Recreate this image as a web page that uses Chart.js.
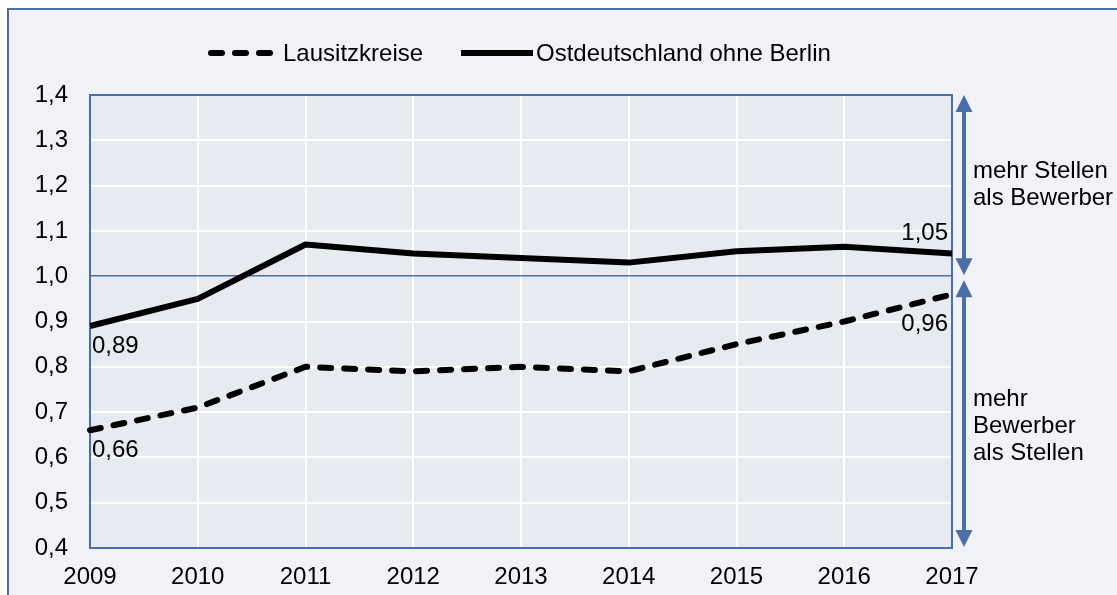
<!DOCTYPE html>
<html>
<head>
<meta charset="utf-8">
<script src="https://cdn.jsdelivr.net/npm/chart.js@4"></script>
<style>
  body { margin: 0; background: #ffffff; }
  #wrap { width: 1117px; height: 595px; }
</style>
</head>
<body>
<div id="wrap"><canvas id="chart" width="1117" height="595"></canvas></div>
<script>
const years = ['2009', '2010', '2011', '2012', '2013', '2014', '2015', '2016', '2017'];
const lausitz = [0.66, 0.71, 0.80, 0.79, 0.80, 0.79, 0.85, 0.90, 0.96];
const ostdeutschland = [0.89, 0.95, 1.07, 1.05, 1.04, 1.03, 1.055, 1.065, 1.05];
const seriesNames = ['Lausitzkreise', 'Ostdeutschland ohne Berlin'];
const upperNote = ['mehr Stellen', 'als Bewerber'];
const lowerNote = ['mehr', 'Bewerber', 'als Stellen'];

const blue = '#4a6ea9';
const plotBg = '#e8eaf1';
const outerBg = '#f1f2f8';
const fontFamily = '"Liberation Sans", Arial, sans-serif';
const fontSize = 24;

let fmt = function (v, d) {
  return v.toFixed(d).replace('.', ',');
};

// background, outer frame, plot area
const backgroundPlugin = {
  id: 'bg',
  beforeDraw(chart) {
    const ctx = chart.ctx;
    const a = chart.chartArea;
    ctx.save();
    ctx.fillStyle = '#ffffff';
    ctx.fillRect(0, 0, chart.width, chart.height);
    ctx.fillStyle = outerBg;
    ctx.fillRect(8, 9, chart.width, chart.height);
    ctx.strokeStyle = blue;
    ctx.lineWidth = 2;
    ctx.beginPath();
    ctx.moveTo(8, chart.height + 5);
    ctx.lineTo(8, 9);
    ctx.lineTo(chart.width + 5, 9);
    ctx.stroke();
    ctx.fillStyle = plotBg;
    ctx.fillRect(a.left, a.top, a.right - a.left, a.bottom - a.top);
    ctx.restore();
  },
  beforeDatasetsDraw(chart) {
    const ctx = chart.ctx;
    const a = chart.chartArea;
    ctx.save();
    ctx.strokeStyle = blue;
    ctx.lineWidth = 2;
    ctx.strokeRect(a.left, a.top, a.right - a.left, a.bottom - a.top);
    ctx.restore();
  }
};

// legend, value labels, arrows and notes on the right
const annotationPlugin = {
  id: 'notes',
  afterDraw(chart) {
    const ctx = chart.ctx;
    const x = chart.scales.x;
    const y = chart.scales.y;
    const last = years.length - 1;
    ctx.save();
    ctx.font = fontSize + 'px ' + fontFamily;
    ctx.fillStyle = '#000000';
    ctx.textBaseline = 'middle';

    // legend
    ctx.strokeStyle = '#000000';
    ctx.lineWidth = 6;
    ctx.lineCap = 'round';
    ctx.setLineDash([11, 13]);
    ctx.beginPath();
    ctx.moveTo(211, 53);
    ctx.lineTo(274, 53);
    ctx.stroke();
    ctx.setLineDash([]);
    ctx.lineCap = 'butt';
    ctx.beginPath();
    ctx.moveTo(461, 53);
    ctx.lineTo(533, 53);
    ctx.stroke();
    ctx.textAlign = 'left';
    ctx.fillText(seriesNames[0], 283, 54);
    ctx.fillText(seriesNames[1], 536, 54);

    // value labels on first and last year
    ctx.textAlign = 'left';
    ctx.fillText(fmt(ostdeutschland[0], 2), x.getPixelForValue(0) + 2, y.getPixelForValue(ostdeutschland[0]) + 20);
    ctx.fillText(fmt(lausitz[0], 2), x.getPixelForValue(0) + 2, y.getPixelForValue(lausitz[0]) + 20);
    ctx.textAlign = 'right';
    ctx.fillText(fmt(ostdeutschland[last], 2), x.getPixelForValue(last) - 4, y.getPixelForValue(ostdeutschland[last]) - 20);
    ctx.fillText(fmt(lausitz[last], 2), x.getPixelForValue(last) - 4, y.getPixelForValue(lausitz[last]) + 30);

    // double arrows
    const ax = x.right + 12;
    let arrow = function (y1, y2) {
      ctx.strokeStyle = blue;
      ctx.fillStyle = blue;
      ctx.lineWidth = 4;
      ctx.beginPath();
      ctx.moveTo(ax, y1 + 10);
      ctx.lineTo(ax, y2 - 10);
      ctx.stroke();
      ctx.beginPath();
      ctx.moveTo(ax, y1);
      ctx.lineTo(ax - 8.5, y1 + 17);
      ctx.lineTo(ax + 8.5, y1 + 17);
      ctx.closePath();
      ctx.fill();
      ctx.beginPath();
      ctx.moveTo(ax, y2);
      ctx.lineTo(ax - 8.5, y2 - 17);
      ctx.lineTo(ax + 8.5, y2 - 17);
      ctx.closePath();
      ctx.fill();
    };
    arrow(y.getPixelForValue(1.4), y.getPixelForValue(1.0) - 1);
    arrow(y.getPixelForValue(1.0) + 4, y.getPixelForValue(0.4) - 1);

    ctx.fillStyle = '#000000';
    ctx.textAlign = 'left';
    upperNote.forEach((t, i) => ctx.fillText(t, x.right + 21, 171 + i * 27));
    lowerNote.forEach((t, i) => ctx.fillText(t, x.right + 21, 399 + i * 27));
    ctx.restore();
  }
};

const ctx = document.getElementById('chart');

new Chart(ctx, {
  type: 'line',
  data: {
    labels: years,
    datasets: [
      {
        label: seriesNames[0],
        data: lausitz,
        borderColor: '#000000',
        borderWidth: 6,
        borderDash: [11, 13],
        borderCapStyle: 'round',
        pointRadius: 0,
        tension: 0,
      },
      {
        label: seriesNames[1],
        data: ostdeutschland,
        borderColor: '#000000',
        borderWidth: 6,
        borderJoinStyle: 'round',
        pointRadius: 0,
        tension: 0,
      }
    ]
  },
  options: {
    responsive: false,
    animation: false,
    devicePixelRatio: 1,
    layout: { padding: { top: 95, right: 165, left: 0, bottom: 0 } },
    plugins: {
      legend: { display: false },
      tooltip: { enabled: false },
    },
    scales: {
      x: {
        offset: false,
        grid: { color: '#ffffff', lineWidth: 2, drawTicks: false, offset: false },
        border: { display: false },
        ticks: { color: '#000000', padding: 15, maxRotation: 0, font: { size: fontSize, family: fontFamily } },
        afterFit(scale) { scale.height = 47; },
      },
      y: {
        min: 0.4,
        max: 1.4,
        grid: {
          drawTicks: false,
          color: (c) => Math.abs(c.tick.value - 1) < 1e-6 ? blue : '#ffffff',
          lineWidth: (c) => Math.abs(c.tick.value - 1) < 1e-6 ? 1.5 : 2,
        },
        border: { display: false },
        ticks: {
          stepSize: 0.1,
          color: '#000000',
          padding: 22,
          font: { size: fontSize, family: fontFamily },
          callback: (v) => fmt(v, 1),
        },
        afterFit(scale) { scale.width = 90; },
      }
    }
  },
  plugins: [backgroundPlugin, annotationPlugin]
});
</script>
</body>
</html>
